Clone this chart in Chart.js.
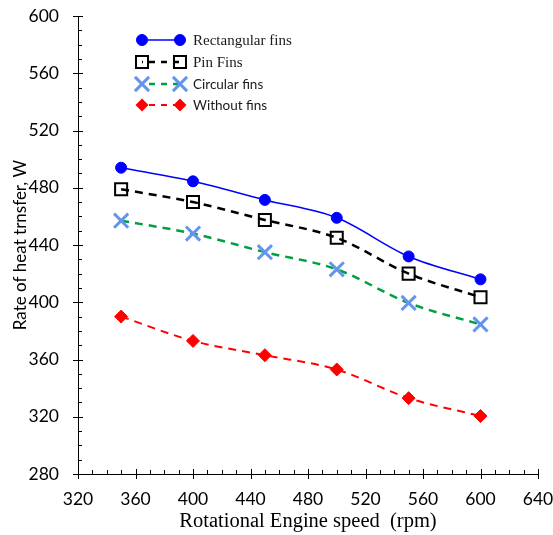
<!DOCTYPE html>
<html lang="en">
<head>
<meta charset="UTF-8">
<title>Rate of heat transfer vs engine speed</title>
<script src="https://cdn.jsdelivr.net/npm/chart.js"></script>
<style>
    body { margin: 0; padding: 0; background: #fff; }
    #wrap { width: 553px; height: 535px; position: relative; }
</style>
</head>
<body>
<div id="wrap"><canvas id="chart" width="553" height="535"></canvas></div>
<script>
// values
const speeds = [350, 400, 450, 500, 550, 600];
const rectangularFins = [494, 484.5, 471.5, 459, 432, 416];
const pinFins = [479, 470, 457.5, 445, 420, 403.5];
const circularFins = [457, 448, 435, 423, 399.5, 384.5];
const withoutFins = [390, 373, 363, 353, 333, 320.5];
const xTicks = [320, 360, 400, 440, 480, 520, 560, 600, 640];
const yTicks = [280, 320, 360, 400, 440, 480, 520, 560, 600];

const sansFont = "Lato, 'Liberation Sans', sans-serif";
const serifFont = "'Liberation Serif', 'DejaVu Serif', serif";

function pts(vals) {
    return vals.map((v, i) => ({ x: speeds[i], y: v }));
}

const series = [
    { label: "Rectangular fins", data: rectangularFins, color: "#0000ff", dash: [], width: 1.5,
      point: "circle", radius: 5.5, pColor: "#0000ff", pFill: "#0000ff", pWidth: 1, font: "15px " + serifFont },
    { label: "Pin Fins", data: pinFins, color: "#000000", dash: [8, 6], width: 2.5,
      point: "rect", radius: 8.5, pColor: "#000000", pFill: "rgba(0,0,0,0)", pWidth: 2, font: "15px " + serifFont },
    { label: "Circular fins", data: circularFins, color: "#00a040", dash: [8, 6], width: 2.5,
      point: "crossRot", radius: 10, pColor: "#6495ed", pFill: "#6495ed", pWidth: 3, font: "13.5px " + sansFont },
    { label: "Without fins", data: withoutFins, color: "#ff0000", dash: [8, 6], width: 2,
      point: "rectRot", radius: 6.5, pColor: "#ff0000", pFill: "#ff0000", pWidth: 1, font: "13.5px " + sansFont }
];

// small marker painter for the in-plot legend
function drawMarker(ctx, s, x, y) {
    ctx.save();
    ctx.setLineDash([]);
    ctx.strokeStyle = s.pColor;
    ctx.fillStyle = s.pFill;
    ctx.lineWidth = s.pWidth;
    const r = s.radius;
    ctx.beginPath();
    if (s.point === "circle") {
        ctx.arc(x, y, r, 0, Math.PI * 2);
        ctx.fill(); ctx.stroke();
    } else if (s.point === "rect") {
        const h = r * Math.SQRT1_2;
        ctx.rect(x - h, y - h, 2 * h, 2 * h);
        ctx.stroke();
    } else if (s.point === "crossRot") {
        const h = r * Math.SQRT1_2;
        ctx.moveTo(x - h, y - h); ctx.lineTo(x + h, y + h);
        ctx.moveTo(x + h, y - h); ctx.lineTo(x - h, y + h);
        ctx.stroke();
    } else if (s.point === "rectRot") {
        ctx.moveTo(x, y - r); ctx.lineTo(x + r, y); ctx.lineTo(x, y + r); ctx.lineTo(x - r, y);
        ctx.closePath(); ctx.fill();
    }
    ctx.restore();
}

const tickMarks = {
    id: "tickMarks",
    afterDraw(chart) {
        const ctx = chart.ctx;
        const xs = chart.scales.x, ys = chart.scales.y;
        const area = chart.chartArea;
        ctx.save();
        ctx.strokeStyle = "#000";
        ctx.lineWidth = 1;
        ctx.beginPath();
        for (let v = xs.min; v <= xs.max; v += 10) {
            const px = Math.round(xs.getPixelForValue(v)) + 0.5;
            if (v % 40 === 0) { ctx.moveTo(px, area.bottom - 5); ctx.lineTo(px, area.bottom + 5); }
            else { ctx.moveTo(px, area.bottom - 4); ctx.lineTo(px, area.bottom); }
        }
        for (let v = ys.min; v <= ys.max; v += 10) {
            const py = Math.round(ys.getPixelForValue(v)) + 0.5;
            if (v % 40 === 0) { ctx.moveTo(area.left - 5, py); ctx.lineTo(area.left + 5, py); }
            else { ctx.moveTo(area.left, py); ctx.lineTo(area.left + 4, py); }
        }
        ctx.stroke();
        ctx.restore();
    }
};

const insideLegend = {
    id: "insideLegend",
    afterDraw(chart) {
        const ctx = chart.ctx;
        const x1 = 142, x2 = 180, tx = 193;
        const rows = [40, 62, 84, 105];
        series.forEach((s, i) => {
            const y = rows[i];
            ctx.save();
            ctx.strokeStyle = s.color;
            ctx.lineWidth = s.width;
            ctx.setLineDash(s.dash.length ? [6, 6] : []);
            ctx.lineDashOffset = s.dash.length ? -7 : 0;
            ctx.beginPath();
            ctx.moveTo(x1, y); ctx.lineTo(x2, y);
            ctx.stroke();
            ctx.restore();
            drawMarker(ctx, s, x1, y);
            drawMarker(ctx, s, x2, y);
            ctx.save();
            ctx.fillStyle = "#1a1a1a";
            ctx.font = s.font;
            ctx.textBaseline = "middle";
            ctx.fillText(s.label, tx, y + 1);
            ctx.restore();
        });
    }
};

new Chart(document.getElementById("chart").getContext("2d"), {
    type: "line",
    data: {
        datasets: series.map(s => ({
            label: s.label,
            data: pts(s.data),
            borderColor: s.color,
            borderWidth: s.width,
            borderDash: s.dash,
            cubicInterpolationMode: "monotone",
            pointStyle: s.point,
            pointRadius: s.radius,
            pointHoverRadius: s.radius,
            pointBorderColor: s.pColor,
            pointBackgroundColor: s.pFill,
            pointBorderWidth: s.pWidth,
            fill: false
        }))
    },
    options: {
        responsive: false,
        animation: false,
        layout: { padding: { top: 16, right: 15, left: 0, bottom: 0 } },
        plugins: { legend: { display: false }, tooltip: { enabled: false } },
        scales: {
            x: {
                type: "linear",
                min: 320, max: 640,
                afterBuildTicks: sc => { sc.ticks = xTicks.map(v => ({ value: v })); },
                afterFit: sc => { sc.height = 61; sc.paddingLeft = 0; sc.paddingRight = 0; },
                grid: { display: false },
                border: { display: true, color: "#000", width: 1 },
                ticks: { color: "#000", padding: 7, font: { family: sansFont, size: 17.5 }, maxRotation: 0 },
                title: { display: true, text: "Rotational Engine speed  (rpm)", color: "#000",
                         font: { family: serifFont, size: 20.5 }, padding: { top: 0, bottom: 1 } }
            },
            y: {
                min: 280, max: 600,
                afterBuildTicks: sc => { sc.ticks = yTicks.map(v => ({ value: v })); },
                afterFit: sc => { sc.width = 78; sc.paddingTop = 0; sc.paddingBottom = 0; },
                grid: { display: false },
                border: { display: true, color: "#000", width: 1 },
                ticks: { color: "#000", padding: 11, font: { family: sansFont, size: 17.5 } },
                title: { display: true, text: "Rate of heat trnsfer, W", color: "#000",
                         font: { family: sansFont, size: 17 }, padding: { top: 10, bottom: 0 } }
            }
        }
    },
    plugins: [tickMarks, insideLegend]
});
</script>
</body>
</html>
